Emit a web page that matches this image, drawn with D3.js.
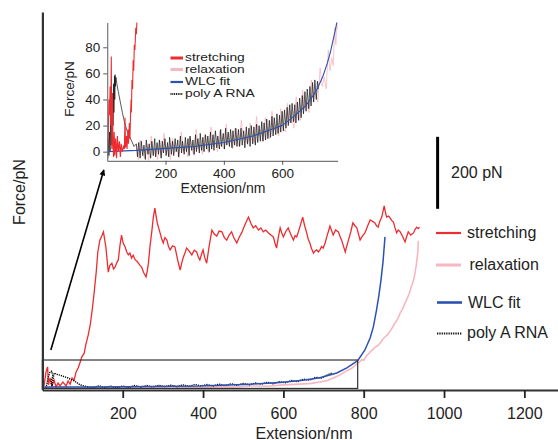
<!DOCTYPE html>
<html>
<head>
<meta charset="utf-8">
<script src="https://cdn.jsdelivr.net/npm/d3@7"></script>
<style>
  body { margin: 0; background: #fff; }
  svg { display: block; font-family: "Liberation Sans", Arial, sans-serif; }
</style>
</head>
<body>
<svg id="chart" width="558" height="440"></svg>
<script>
// ---- main panel data: [extension nm, force pN] ----
const stretchMain = [[4,3],[9,42],[13,56],[15,6],[19,25],[24,3],[29,19],[34,0],[39,11],[44,3],[51,14],[59,3],[64,17],[69,8],[74,25],[79,19],[84,42],[89,53],[94,69],[98,83],[104,94],[108,117],[114,144],[119,172],[124,214],[129,264],[134,319],[138,375],[143,408],[148,420],[152,431],[158,389],[164,319],[168,338],[173,344],[177,328],[181,333],[185,345],[189,353],[193,392],[197,422],[201,400],[206,389],[210,375],[214,367],[218,372],[222,358],[226,366],[231,353],[235,350],[239,344],[243,338],[247,333],[252,318],[258,306],[261,322],[264,344],[268,392],[272,428],[276,470],[280,497],[286,455],[293,428],[297,412],[301,400],[305,415],[310,408],[314,390],[318,381],[324,392],[330,389],[337,352],[343,325],[347,345],[351,361],[355,372],[359,386],[365,378],[372,367],[378,380],[384,375],[388,362],[392,353],[396,368],[400,381],[404,360],[409,344],[415,390],[422,436],[428,425],[434,419],[440,433],[447,431],[453,415],[459,408],[465,422],[471,431],[477,414],[484,400],[490,416],[496,428],[504,450],[513,472],[519,455],[525,442],[531,448],[538,436],[544,442],[550,431],[556,436],[563,428],[569,422],[575,417],[579,400],[583,386],[588,420],[592,442],[596,428],[600,417],[606,432],[612,442],[618,425],[625,408],[629,420],[633,417],[637,430],[641,444],[645,460],[648,472],[653,448],[658,428],[662,410],[666,400],[670,385],[675,372],[679,378],[683,381],[687,375],[691,381],[695,390],[699,386],[704,400],[708,417],[712,432],[716,447],[720,435],[724,422],[730,436],[737,431],[741,418],[745,408],[750,390],[754,375],[758,392],[762,408],[768,432],[773,456],[778,448],[783,442],[787,425],[791,408],[797,420],[803,428],[810,448],[816,464],[822,460],[828,456],[832,448],[836,444],[840,460],[845,472],[848,488],[851,503],[854,486],[857,472],[862,475],[866,469],[870,462],[874,458],[878,442],[882,428],[886,436],[891,431],[897,418],[903,403],[907,418],[911,431],[917,422],[924,428],[928,438],[932,444],[936,440],[939,444]];

const relaxMain = [[6,-3],[40,-1],[80,-4],[120,-2],[160,-4],[200,-1],[240,-3],[280,-1],[320,-3],[360,0],[400,-2],[440,1],[480,0],[520,3],[560,2],[600,6],[641,8],[670,10],[691,14],[710,18],[724,25],[740,33],[753,42],[770,52],[783,64],[790,70],[795,76],[800,74],[808,89],[812,92],[818,100],[823,104],[828,111],[834,114],[841,122],[847,132],[853,139],[860,146],[866,156],[872,166],[878,178],[885,190],[891,206],[896,215],[901,228],[906,240],[911,253],[915,265],[918,278],[921,286],[924,297],[927,312],[929,325],[931,340],[933,358],[935,380],[936,406]];

const wlcMain = [[1,0],[143,0],[268,1.4],[392,3],[517,8],[592,12.5],[649,19],[691,26],[733,39],[758,53],[785,73],[803,103],[816,136],[824,167],[832,214],[838,256],[843,297],[848,347],[853,417]];

const polyAMain = [[9,-3],[14,25],[19,42],[23,44],[26,31],[21,12],[24,2],[29,39],[34,36],[49,31],[64,25],[79,17],[94,6],[110,1],[125,-2],[140,3],[155,-1],[170,2],[185,-2],[200,3],[215,-1],[230,4],[245,0],[260,4],[275,0],[290,5],[305,1],[320,5],[335,1],[350,6],[365,2],[380,7],[395,3],[410,7],[425,3],[440,8],[455,4],[470,9],[485,5],[500,10],[515,6],[530,11],[545,8],[560,13],[575,9],[590,15],[605,12],[620,18],[635,15],[650,22],[665,19],[680,27],[695,25],[710,34],[721,39]];

const mainXTicks = [200, 400, 600, 800, 1000, 1200];
const zoomBox = { x: [0, 785], y: [-4, 75] };
const arrowFromTo = [[21, 103], [153, 603]];
const scaleBar = { x: 984, y: [495, 695], label: "200 pN" };

// ---- inset data: [extension nm, force pN] ----
const stretchInset = [[3,5],[6,40],[8,28],[10,50],[12,20],[14,73],[16,2],[18,45],[20,5],[22,-4],[24,15],[26,-3],[29,10],[32,-5],[35,12],[38,0],[42,8],[45,-4],[48,6],[52,0],[56,4],[59,2],[61,26],[63,3],[66,12],[68,2],[71,17],[73,6],[76,22],[78,10],[80,28],[82,40],[83,30],[85,55],[87,48],[89,70],[91,62],[93,82],[95,78],[98,95],[100,90],[103,105]];

const relaxInset = [[100,4],[107,-6],[113,9],[121,-2],[128,-5],[136,6],[142,-7],[151,12],[158,-3],[166,2],[173,-6],[181,8],[186,-4],[195,14],[203,-2],[209,4],[217,-6],[224,10],[231,-1],[239,3],[246,-5],[254,15],[262,0],[268,5],[276,-4],[283,11],[291,1],[298,-3],[305,17],[313,2],[319,6],[327,-2],[334,13],[342,3],[349,-1],[356,19],[364,4],[371,8],[378,0],[386,16],[393,5],[401,2],[408,21],[415,6],[423,10],[430,2],[438,18],[446,8],[452,4],[460,24],[467,9],[475,13],[482,5],[490,22],[497,11],[505,7],[512,27],[519,12],[527,17],[534,8],[542,26],[550,14],[557,10],[565,31],[572,16],[580,21],[588,12],[595,33],[603,19],[610,15],[618,37],[625,22],[633,27],[640,18],[648,42],[655,29],[662,24],[670,47],[677,33],[684,38],[692,30],[700,55],[707,41],[714,46],[722,38],[730,64],[737,50],[744,57],[751,48],[758,78],[764,62],[770,72],[775,66],[780,95],[784,82],[788,100],[790,94]];

const wlcInset = [[0,0],[100,1],[200,2.5],[300,4],[400,7],[500,12],[550,16],[600,20],[640,27],[680,35],[700,41],[720,48],[740,58],[755,68],[765,76],[775,86],[782,93],[790,102]];

const polyAInset = [[2,-5],[4,10],[6,-3],[8,15],[10,0],[12,25],[14,5],[16,35],[18,10],[19,45],[20,20],[22,52],[23,30],[25,58],[26,40],[27,59],[28,50],[30,57],[33,52],[38,46],[45,38],[52,30],[60,22],[68,16],[76,12],[84,8],[92,4],
[100,6],[104,-4],[108,7],[113,-5],[117,8],[122,-3],[126,5],[131,-6],[134,9],[140,-2],[144,6],[149,-5],[153,8],[158,-3],[163,10],[166,-4],[171,7],[176,-2],[179,9],[185,-5],[189,8],[193,-1],[198,10],[202,-3],[207,7],[211,-4],[214,11],[220,-2],[224,8],[228,-3],[233,10],[237,0],[242,9],[245,-4],[251,12],[255,-1],[258,8],[264,-2],[268,11],[272,0],[277,10],[281,-3],[284,12],[290,1],[294,9],[298,-2],[303,13],[306,0],[311,10],[316,-1],[319,14],[324,1],[328,11],[332,0],[337,13],[341,2],[345,12],[350,0],[354,15],[358,2],[363,13],[366,1],[371,16],[376,3],[379,12],[385,2],[389,17],[392,4],[398,14],[402,2],[406,18],[410,5],[415,15],[419,4],[423,17],[428,3],[431,16],[437,5],[441,18],[445,4],
[450,17],[454,4],[459,18],[463,5],[468,16],[472,3],[477,19],[481,6],[486,18],[490,4],[494,20],[499,6],[503,19],[508,5],[512,21],[516,7],[521,20],[525,8],[530,23],[534,8],[538,22],[543,9],[547,25],[551,10],[556,24],[560,11],[565,27],[569,12],[573,26],[578,13],[582,29],[586,14],[591,28],[595,15],[600,31],[604,16],[608,32],[613,18],[617,34],[621,20],[626,36],[630,22],[634,37],[639,23],[643,36],[647,22],[652,38],[656,24],[660,41],[665,26],[669,43],[673,29],[678,46],[682,31],[686,48],[691,33],[695,50],[699,35],[704,53],[708,38],[712,55],[717,40],[721,54],[724,48]];

const insetXTicks = [200, 400, 600];
const insetYTicks = [0, 20, 40, 60, 80];

const seriesNames = ["stretching", "relaxation", "WLC fit", "poly A RNA"];
const colors = { stretching: "#ee2b2e", relaxation: "#f7b7c0", "WLC fit": "#2b52b3", "poly A RNA": "#111" };

// ---------------------------------------------------------------
const svg = d3.select("#chart");

var xMain = d3.scaleLinear().domain([0, 1285]).range([42.4, 558.5]);
var yMain = d3.scaleLinear().domain([-8.3, 1041.7]).range([390, 12]);

var xIn = d3.scaleLinear().domain([0, 790]).range([107.2, 337.6]);
var yIn = d3.scaleLinear().domain([-7, 99]).range([160.8, 22.5]);

var lineMain = d3.line().x(d => xMain(d[0])).y(d => yMain(d[1]));
var lineIn = d3.line().x(d => xIn(d[0])).y(d => yIn(d[1]));

var defs = svg.append("defs");
defs.append("clipPath").attr("id", "clipIn")
  .append("rect")
  .attr("x", xIn(0)).attr("y", yIn(99))
  .attr("width", xIn(790) - xIn(0)).attr("height", yIn(-7) - yIn(99));

defs.append("marker")
  .attr("id", "arrowhead")
  .attr("viewBox", "0 0 10 10")
  .attr("refX", 9).attr("refY", 5)
  .attr("markerWidth", 7).attr("markerHeight", 6)
  .attr("markerUnits", "userSpaceOnUse")
  .attr("orient", "auto")
  .append("path").attr("d", "M0,0 L10,5 L0,10 Z").attr("fill", "#000");

// main traces
var gMain = svg.append("g");
gMain.append("path").datum(relaxMain).attr("d", lineMain)
  .attr("fill", "none").attr("stroke", colors.relaxation).attr("stroke-width", 1.6);
gMain.append("path").datum(stretchMain).attr("d", lineMain)
  .attr("fill", "none").attr("stroke", colors.stretching).attr("stroke-width", 1.3);
gMain.append("path").datum(polyAMain).attr("d", lineMain)
  .attr("fill", "none").attr("stroke", "#000").attr("stroke-width", 1.4)
  .attr("stroke-dasharray", "1.2,1");
gMain.append("path").datum(wlcMain).attr("d", lineMain)
  .attr("fill", "none").attr("stroke", colors["WLC fit"]).attr("stroke-width", 1.5);

// zoom box
gMain.append("rect")
  .attr("x", xMain(zoomBox.x[0])).attr("y", yMain(zoomBox.y[1]))
  .attr("width", xMain(zoomBox.x[1]) - xMain(zoomBox.x[0]))
  .attr("height", yMain(zoomBox.y[0]) - yMain(zoomBox.y[1]))
  .attr("fill", "none").attr("stroke", "#333").attr("stroke-width", 1.2);

// arrow to inset
gMain.append("line")
  .attr("x1", xMain(arrowFromTo[0][0])).attr("y1", yMain(arrowFromTo[0][1]))
  .attr("x2", xMain(arrowFromTo[1][0])).attr("y2", yMain(arrowFromTo[1][1]))
  .attr("stroke", "#000").attr("stroke-width", 1.6)
  .attr("marker-end", "url(#arrowhead)");

// main axes
var xAxisMain = svg.append("g")
  .attr("transform", "translate(0,390)")
  .call(d3.axisBottom(xMain).tickValues(mainXTicks).tickFormat(d3.format("d"))
    .tickSize(8).tickSizeOuter(0).tickPadding(10));
xAxisMain.select(".domain").attr("stroke", "#333").attr("stroke-width", 2.2);
xAxisMain.selectAll(".tick line").attr("stroke", "#222").attr("stroke-width", 1.8);
xAxisMain.selectAll("text").attr("font-size", 16).attr("fill", "#222")
  .attr("font-family", "Liberation Sans, Arial, sans-serif");

var yAxisMain = svg.append("g")
  .attr("transform", "translate(42.4,0)")
  .call(d3.axisLeft(yMain).tickValues([]).tickSizeOuter(0));
yAxisMain.select(".domain").attr("stroke", "#333").attr("stroke-width", 2.2);

svg.append("text")
  .attr("x", 304).attr("y", 438.5)
  .attr("text-anchor", "middle").attr("font-size", 16).attr("fill", "#222")
  .text("Extension/nm");

svg.append("text")
  .attr("transform", "translate(19,192) rotate(-90)")
  .attr("text-anchor", "middle").attr("dominant-baseline", "central")
  .attr("font-size", 16).attr("fill", "#222")
  .text("Force/pN");

// scale bar
svg.append("line")
  .attr("x1", xMain(scaleBar.x)).attr("x2", xMain(scaleBar.x))
  .attr("y1", yMain(scaleBar.y[0])).attr("y2", yMain(scaleBar.y[1]))
  .attr("stroke", "#000").attr("stroke-width", 3);
svg.append("text")
  .attr("x", 451).attr("y", 172.5)
  .attr("dominant-baseline", "central").attr("font-size", 16).attr("fill", "#222")
  .text(scaleBar.label);

// main legend
var legendRows = [
  { name: "stretching", ly: 233, ty: 232.5, lx: 436, tx: 467, w: 2.2, dash: null },
  { name: "relaxation", ly: 265, ty: 264.5, lx: 436, tx: 469.5, w: 3, dash: null },
  { name: "WLC fit", ly: 302.5, ty: 302, lx: 437, tx: 468, w: 2.6, dash: null },
  { name: "poly A RNA", ly: 333.5, ty: 332, lx: 437, tx: 467, w: 2, dash: "1.3,1" }
];
var legend = svg.append("g");
legendRows.forEach(function(r) {
  legend.append("line")
    .attr("x1", r.lx).attr("x2", r.lx + 25).attr("y1", r.ly).attr("y2", r.ly)
    .attr("stroke", colors[r.name]).attr("stroke-width", r.w)
    .attr("stroke-dasharray", r.dash);
  legend.append("text")
    .attr("x", r.tx).attr("y", r.ty)
    .attr("dominant-baseline", "central").attr("font-size", 16).attr("fill", "#222")
    .text(r.name);
});

// ---------------- inset ----------------
var gIn = svg.append("g");
var gInData = gIn.append("g").attr("clip-path", "url(#clipIn)");

gInData.append("path").datum(relaxInset).attr("d", lineIn)
  .attr("fill", "none").attr("stroke", colors.relaxation).attr("stroke-width", 0.8);
gInData.append("path").datum(polyAInset).attr("d", lineIn)
  .attr("fill", "none").attr("stroke", "#111").attr("stroke-width", 0.7);
gInData.append("path").datum(wlcInset).attr("d", lineIn)
  .attr("fill", "none").attr("stroke", colors["WLC fit"]).attr("stroke-width", 1.1);
gInData.append("path").datum(stretchInset).attr("d", lineIn)
  .attr("fill", "none").attr("stroke", colors.stretching).attr("stroke-width", 1.1);

var xAxisIn = gIn.append("g")
  .attr("transform", "translate(0," + yIn(-7) + ")")
  .call(d3.axisBottom(xIn).tickValues(insetXTicks).tickSize(4).tickSizeOuter(0).tickPadding(4));
var yAxisIn = gIn.append("g")
  .attr("transform", "translate(" + xIn(0) + ",0)")
  .call(d3.axisLeft(yIn).tickValues(insetYTicks).tickSize(4).tickSizeOuter(0).tickPadding(3));
[xAxisIn, yAxisIn].forEach(function(a) {
  a.select(".domain").attr("stroke", "#777").attr("stroke-width", 1.2);
  a.selectAll(".tick line").attr("stroke", "#555");
  a.selectAll("text").attr("font-size", 13.5).attr("fill", "#222")
    .attr("font-family", "Liberation Sans, Arial, sans-serif");
});

gIn.append("text")
  .attr("x", 223).attr("y", 193)
  .attr("text-anchor", "middle").attr("font-size", 14).attr("fill", "#222")
  .text("Extension/nm");
gIn.append("text")
  .attr("transform", "translate(69,89) rotate(-90)")
  .attr("text-anchor", "middle").attr("dominant-baseline", "central")
  .attr("font-size", 13.5).attr("fill", "#222")
  .text("Force/pN");

// inset legend (text is drawn wide and tight, like the original)
var insetLegendRows = [
  { name: "stretching", ly: 58, ty: 57, w: 3, dash: null },
  { name: "relaxation", ly: 69.5, ty: 69, w: 3, dash: null },
  { name: "WLC fit", ly: 82, ty: 81.5, w: 2.2, dash: null },
  { name: "poly A RNA", ly: 94, ty: 93.5, w: 1.8, dash: "1,0.8" }
];
insetLegendRows.forEach(function(r) {
  gIn.append("line")
    .attr("x1", 170.5).attr("x2", 183).attr("y1", r.ly).attr("y2", r.ly)
    .attr("stroke", colors[r.name]).attr("stroke-width", r.w)
    .attr("stroke-dasharray", r.dash);
  gIn.append("text")
    .attr("transform", "translate(185," + r.ty + ") scale(1.2,1)")
    .attr("dominant-baseline", "central").attr("font-size", 11.5).attr("fill", "#222")
    .text(r.name);
});
</script>
</body>
</html>
